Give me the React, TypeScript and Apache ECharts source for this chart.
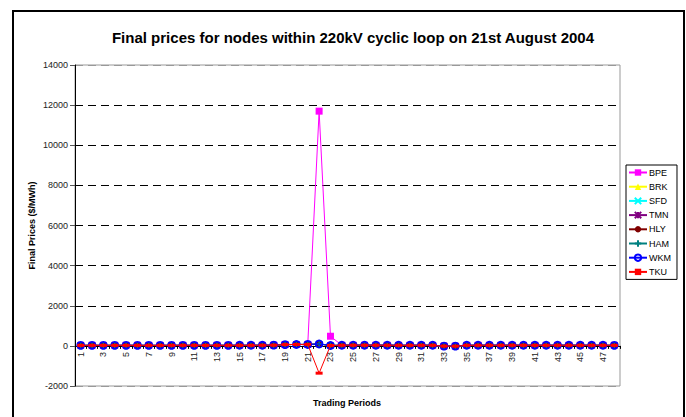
import React, { useEffect, useRef } from "react";
import * as echarts from "echarts";

const periods: string[] = Array.from({ length: 48 }, (_, i) => String(i + 1));

const seriesNames = ["BPE", "BRK", "SFD", "TMN", "HLY", "HAM", "WKM", "TKU"];
const seriesColors = ["#FF00FF", "#FFFF00", "#00FFFF", "#800080", "#800000", "#008080", "#0000FF", "#FF0000"];

// common node prices (most nodes track each other closely)
const baseValues = [
  25, 26, 25, 26, 27, 26, 25, 25, 26, 27, 27, 26, 26, 27, 28, 28, 30, 35,
  65, 70, 72, 95, 20, 30, 32, 33, 32, 30, 28, 28, 30, 28, -12, -15,
  28, 29, 30, 30, 30, 30, 29, 29, 30, 30, 29, 29, 28, 27,
];
const bpeValues = baseValues.map((v, i) => (i === 21 ? 11700 : i === 22 ? 480 : v));
const tkuValues = baseValues.map((v, i) => (i === 21 ? -1360 : v));

const yTicks = { min: -2000, max: 14000, interval: 2000 };

const symbols: any[] = [
  "rect",
  "triangle",
  "path://M0,0L10,10M10,0L0,10",
  "path://M0,0L10,10M10,0L0,10M5,0L5,10",
  "circle",
  "path://M5,0L5,10M0,5L10,5",
  "circle",
  "rect",
];

export default function App() {
  const ref = useRef<HTMLDivElement>(null);
  useEffect(() => {
    if (!ref.current) return;
    const chart = echarts.init(ref.current, undefined, { renderer: "svg" });
    const font = "Liberation Sans, Arial, sans-serif";
    const gridTop = 65;
    const gridBottom = 31;
    const plotH = 417 - gridTop - gridBottom;
    const zeroOffset = -(plotH * (0 - yTicks.min)) / (yTicks.max - yTicks.min);
    const dataFor = (i: number) =>
      i === 0 ? bpeValues : i === 7 ? tkuValues : baseValues;
    const series = seriesNames.map((name, i) => {
      const color = seriesColors[i];
      const isPathStroke = i === 2 || i === 3 || i === 5;
      const itemStyle: any = { color };
      if (isPathStroke) {
        itemStyle.color = color;
        itemStyle.borderColor = color;
        itemStyle.borderWidth = 1.5;
      }
      if (i === 6) {
        itemStyle.color = "rgba(0,0,0,0)";
        itemStyle.borderColor = color;
        itemStyle.borderWidth = 1.8;
      }
      return {
        name,
        type: "line",
        data: dataFor(i),
        symbol: symbols[i],
        symbolSize: i === 7 ? [7, 3] : i === 0 ? 7 : i === 6 ? 7 : 6,
        showAllSymbol: true,
        lineStyle: { color, width: 1 },
        itemStyle,
        z: 2 + i,
      };
    });
    chart.setOption({
      animation: false,
      backgroundColor: "#fff",
      textStyle: { fontFamily: font },
      title: {
        text: "Final prices for nodes within 220kV cyclic loop on 21st August 2004",
        left: 348,
        textAlign: "center",
        top: 25,
        textStyle: { fontSize: 15, fontWeight: "bold", color: "#000", fontFamily: font },
      },
      graphic: [
        {
          type: "rect",
          shape: { x: 13, y: 11, width: 671, height: 430 },
          style: { fill: "none", stroke: "#000", lineWidth: 2 },
          silent: true,
        },
        {
          type: "text",
          style: {
            x: 347,
            y: 403,
            text: "Trading Periods",
            fontSize: 9,
            fontWeight: "bold",
            fontFamily: font,
            fill: "#000",
            textAlign: "center",
            textVerticalAlign: "middle",
          },
          silent: true,
        },
      ],
      legend: {
        orient: "vertical",
        left: 626,
        top: 165,
        data: seriesNames,
        itemWidth: 18,
        itemHeight: 8,
        itemGap: 5.2,
        padding: [3, 6, 3, 2],
        borderColor: "#000",
        borderWidth: 1,
        textStyle: { fontSize: 9, color: "#000", fontFamily: font, padding: [0, 0, 0, -3] },
      },
      grid: {
        left: 75,
        right: 66,
        top: gridTop,
        bottom: gridBottom,
        containLabel: false,
        outerBoundsMode: "none",
        show: true,
        borderColor: "#999",
        borderWidth: 1,
      },
      xAxis: {
        type: "category",
        data: periods,
        boundaryGap: true,
        position: "bottom",
        offset: zeroOffset,
        axisLine: { onZero: false, lineStyle: { color: "#000", width: 1 } },
        axisTick: { show: true, length: 3, lineStyle: { color: "#000" }, interval: 0 },
        axisLabel: {
          interval: 1,
          rotate: 90,
          fontSize: 9,
          color: "#222",
          margin: 6,
          fontFamily: font,
        },
        splitLine: { show: false },
      },
      yAxis: {
        type: "value",
        min: yTicks.min,
        max: yTicks.max,
        interval: yTicks.interval,
        name: "Final Prices ($/MWh)",
        nameLocation: "middle",
        nameGap: 39,
        nameMoveOverlap: false,
        nameTextStyle: { fontSize: 9, fontWeight: "bold", color: "#000", fontFamily: font },
        axisLine: { show: true, lineStyle: { color: "#000", width: 1 } },
        axisTick: { show: true, length: 5, lineStyle: { color: "#555" } },
        axisLabel: {
          fontSize: 9,
          color: "#222",
          margin: 7,
          fontFamily: font,
          formatter: (v: number) => String(v),
        },
        splitLine: {
          show: true,
          lineStyle: {
            type: [8, 5],
            width: 1,
            color: ["#999", "#000", "#000", "#000", "#000", "#000", "#000", "#000", "#999"],
          },
        },
      },
      series,
    });
    return () => chart.dispose();
  }, []);
  return (
    <div
      ref={ref}
      style={{ position: "fixed", left: 0, top: 0, width: 686, height: 417 }}
    />
  );
}
